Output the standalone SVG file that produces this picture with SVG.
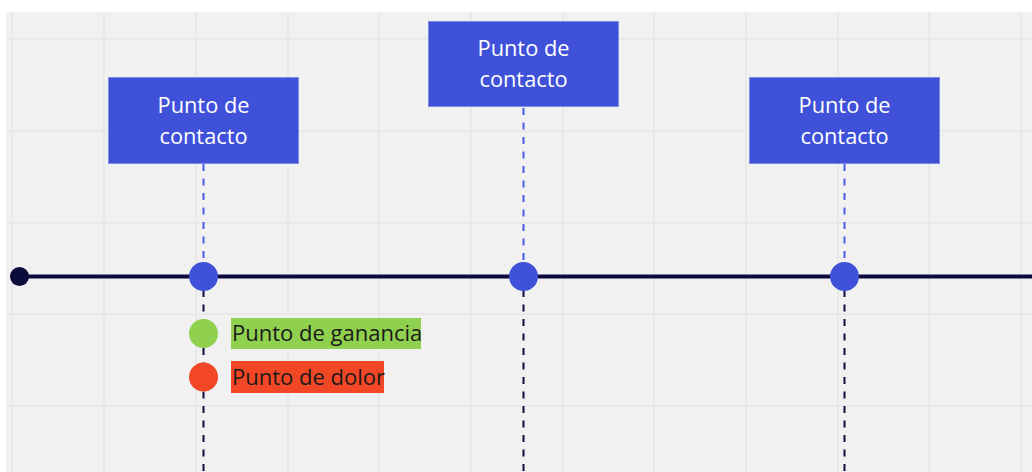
<svg xmlns="http://www.w3.org/2000/svg" width="1032" height="472" viewBox="0 0 1032 472">
<style>
.grid line{stroke:#e6e6e6;stroke-width:1.5}
.box{fill:#3f51d9;stroke:#7d8ae6;stroke-width:1}
.bt{font-family:"Open Sans","Liberation Sans",sans-serif;font-size:21.8px;fill:#ffffff;text-anchor:middle}
.up{stroke:#4a5ce8;stroke-width:2;stroke-dasharray:7 7.5;fill:none}
.down{stroke:#0c0c3c;stroke-width:2;stroke-dasharray:7 7.5;fill:none}
.tp{fill:#3f51d9}
.lt{font-family:"Open Sans","Liberation Sans",sans-serif;font-size:22px;fill:#1a1a1a}
</style>
<rect x="0" y="0" width="1032" height="472" fill="#ffffff"/>
<rect x="6" y="12" width="1026" height="460" fill="#f1f1f1"/>
<g class="grid">
<line x1="12" y1="12" x2="12" y2="472"/>
<line x1="104" y1="12" x2="104" y2="472"/>
<line x1="196" y1="12" x2="196" y2="472"/>
<line x1="288" y1="12" x2="288" y2="472"/>
<line x1="379" y1="12" x2="379" y2="472"/>
<line x1="471" y1="12" x2="471" y2="472"/>
<line x1="563" y1="12" x2="563" y2="472"/>
<line x1="654" y1="12" x2="654" y2="472"/>
<line x1="746" y1="12" x2="746" y2="472"/>
<line x1="838" y1="12" x2="838" y2="472"/>
<line x1="929" y1="12" x2="929" y2="472"/>
<line x1="1021" y1="12" x2="1021" y2="472"/>
<line x1="6" y1="39" x2="1032" y2="39"/>
<line x1="6" y1="131" x2="1032" y2="131"/>
<line x1="6" y1="223" x2="1032" y2="223"/>
<line x1="6" y1="314" x2="1032" y2="314"/>
<line x1="6" y1="406" x2="1032" y2="406"/>
</g>
<g id="connectors">
<line class="up" x1="203.5" y1="164" x2="203.5" y2="264"/>
<line class="up" x1="523.5" y1="108" x2="523.5" y2="264"/>
<line class="up" x1="844.5" y1="164" x2="844.5" y2="264"/>
<line class="down" x1="203.5" y1="290" x2="203.5" y2="472"/>
<line class="down" x1="523.5" y1="290" x2="523.5" y2="472"/>
<line class="down" x1="844.5" y1="290" x2="844.5" y2="472"/>
<line x1="19" y1="276.5" x2="1032" y2="276.5" stroke="#0c0c3c" stroke-width="4"/>
</g>
<g id="start"><circle cx="19.5" cy="276.5" r="9.5" fill="#0c0c3c"/></g>
<g id="tp1"><circle class="tp" cx="203.5" cy="276.5" r="14.5"/></g>
<g id="tp2"><circle class="tp" cx="523.5" cy="276.5" r="14.5"/></g>
<g id="tp3"><circle class="tp" cx="844.5" cy="276.5" r="14.5"/></g>
<g id="box1"><rect class="box" x="108.5" y="77.5" width="190" height="86"/>
<text class="bt" x="203.5" y="113">Punto de</text><text class="bt" x="203.5" y="144">contacto</text></g>
<g id="box2"><rect class="box" x="428.5" y="21.5" width="190" height="85"/>
<text class="bt" x="523.5" y="56">Punto de</text><text class="bt" x="523.5" y="87">contacto</text></g>
<g id="box3"><rect class="box" x="749.5" y="77.5" width="190" height="86"/>
<text class="bt" x="844.5" y="113">Punto de</text><text class="bt" x="844.5" y="144">contacto</text></g>
<g id="gain"><circle cx="203.5" cy="333.5" r="14.5" fill="#8fd14f"/>
<rect x="231" y="318" width="190" height="31" fill="#8fd14f"/>
<text class="lt" x="232" y="341">Punto de ganancia</text></g>
<g id="pain"><circle cx="203.5" cy="377" r="14.5" fill="#f24726"/>
<rect x="231" y="361" width="153" height="32" fill="#f24726"/>
<text class="lt" x="232" y="385">Punto de dolor</text></g>
</svg>
